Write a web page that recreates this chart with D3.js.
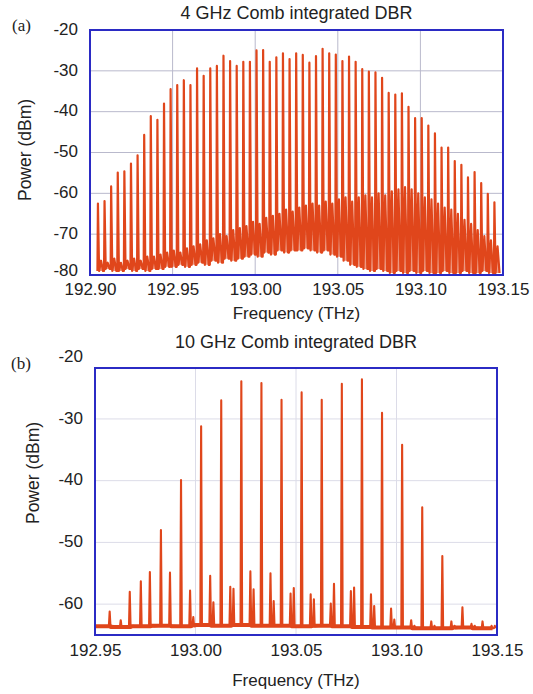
<!DOCTYPE html>
<html>
<head>
<meta charset="utf-8">
<script src="https://cdn.jsdelivr.net/npm/d3@7/dist/d3.min.js"></script>
<style>
  body { margin: 0; background: #fff; }
  text { font-family: "Liberation Sans", Arial, sans-serif; fill: #222; }
  .tag { font-family: "Liberation Serif", "Times New Roman", serif; }
</style>
</head>
<body>
<svg id="chart" width="533" height="694"></svg>
<script>
// ---- panel (a): 4 GHz comb, one value per comb line / gap ----
var combA_start = 192.9048, combA_step = 0.004;
var peaksA = [-62.5, -61.9, -58.3, -54.9, -54.6, -52.7, -50.7, -45.7, -41.1, -42.0,
              -38.0, -34.5, -33.5, -32.3, -33.5, -29.4, -31.2, -29.4, -28.8, -26.3,
              -27.6, -28.8, -27.8, -27.8, -25.0, -24.9, -27.8, -26.7, -25.7, -27.1,
              -25.7, -26.1, -28.0, -26.4, -24.6, -25.7, -26.0, -27.6, -26.5, -27.8,
              -29.6, -30.2, -30.4, -31.7, -35.4, -35.8, -35.5, -38.8, -41.6, -41.6,
              -43.4, -45.3, -48.8, -48.8, -52.1, -53.0, -56.1, -54.8, -57.5, -60.1, -62.2];
// side-mode level between lines
var sideA = [-76.5, -77, -76, -77, -76.5, -76, -76.5, -75.5, -75.5,
             -75, -74.5, -74, -74.5, -73.5, -73,
             -72.5, -71.5, -71, -70, -70.5, -69,
             -68.5, -68, -67, -67.5, -66, -65.5, -65, -64, -64.5,
             -63.5, -63, -62.5, -63, -62, -62.5, -61.5, -61, -62,
             -61, -60.5, -61, -60, -60.5, -59.5, -59, -58.5,
             -59, -60, -61, -61.5, -62.5, -63.5, -64,
             -65, -66.5, -67.5, -69, -70.5, -71.5, -73];
// noise floor between lines
var floorA = [-79, -78.5, -79, -79, -78.5, -79, -78.5, -79, -78.5,
              -78.5, -78, -78, -77.5, -78, -77.5,
              -77, -77.5, -76.5, -77, -76, -76.5,
              -76, -75.5, -75, -75.5, -74.5, -75, -74, -74.5, -74,
              -74, -73.5, -74, -74.5, -74, -75, -75.5, -76.5, -77.5,
              -78, -78.5, -79, -78.5, -79, -79.5, -79, -79.5,
              -79, -79.5, -79, -79.5, -79.5, -79, -79.5,
              -79.5, -79, -79.5, -79.5, -79, -79.5, -79.5];

// ---- panel (b): 10 GHz comb ----
var combB_start = 192.9528, combB_step = 0.01;
var peaksB = [-63.6, -62.6, -56.3, -48.0, -39.9, -31.2, -27.0, -23.9, -24.2, -26.9,
              -25.7, -26.9, -24.3, -23.6, -29.0, -34.2, -44.3, -52.2, -60.5, -62.8];
// two weak side lines after each main line (at +4.5 and +6.1 GHz)
var sideOffB = [0.0045, 0.0061];
var side1B = [-61.2, -58.0, -54.8, -54.9, -57.8, -55.4, -57.2, -54.7, -55.0, -58.3,
              -58.4, -59.9, -57.9, -58.4, -60.7, -62.6, -62.8, -62.8, -63.2, -63.5];
var side2B = [-63.5, -63.5, -63.5, -63.5, -62.1, -59.7, -57.5, -57.6, -59.5, -57.4,
              -59.2, -56.7, -57.3, -60.3, -62.5, -63.5, -63.5, -63.5, -63.5, -63.5];
var floorB = [-63.6, -63.7, -63.6, -63.5, -63.6, -63.4, -63.5, -63.4, -63.5, -63.5,
              -63.6, -63.5, -63.6, -63.7, -63.8, -63.8, -63.9, -63.9, -63.8, -63.9];

var traceColor = "#e0461b";
var svg = d3.select("#chart");

function panel(opt) {
    var m = opt.box;
    var w = m.right - m.left, h = m.bottom - m.top;
    var x = d3.scaleLinear().domain(opt.xDomain).range([0, w]);
    var y = d3.scaleLinear().domain(opt.yDomain).range([h, 0]);

    var g = svg.append("g").attr("transform", "translate(" + m.left + "," + m.top + ")");

    g.append("clipPath").attr("id", opt.id + "clip")
        .append("rect").attr("width", w).attr("height", h);

    // grid
    g.selectAll(".vgrid").data(opt.xGrid).enter().append("line")
        .attr("x1", x).attr("x2", x).attr("y1", 0).attr("y2", h)
        .attr("stroke", opt.gridColor).attr("stroke-width", 1);
    g.selectAll(".hgrid").data(opt.yGrid).enter().append("line")
        .attr("y1", y).attr("y2", y).attr("x1", 0).attr("x2", w)
        .attr("stroke", opt.gridColor).attr("stroke-width", 1);

    var line = d3.line().x(function(d) { return x(d[0]); }).y(function(d) { return y(d[1]); });
    var plot = g.append("g").attr("clip-path", "url(#" + opt.id + "clip)");

    // dense noise band: fill between trace and local floor
    if (opt.band) {
        var area = d3.area()
            .x(function(d) { return x(d[0]); })
            .y0(function(d) { return y(d[2]); })
            .y1(function(d) { return y(d[1]); });
        plot.append("path").attr("d", area(opt.points))
            .attr("fill", traceColor).attr("fill-opacity", 0.55).attr("stroke", "none");
    }
    if (opt.floor) {
        plot.append("path").attr("d", line(opt.floor))
            .attr("fill", "none").attr("stroke", traceColor)
            .attr("stroke-width", opt.floorWidth).attr("stroke-linejoin", "round");
    }
    plot.append("path").attr("d", line(opt.points))
        .attr("fill", "none").attr("stroke", traceColor)
        .attr("stroke-width", opt.lineWidth).attr("stroke-linejoin", "round");

    // frame
    g.append("rect").attr("width", w).attr("height", h)
        .attr("fill", "none").attr("stroke", "#2b2bc4").attr("stroke-width", 2);

    // axes
    g.append("g").attr("transform", "translate(0," + h + ")")
        .call(d3.axisBottom(x).tickValues(opt.xTicks).tickSize(0).tickPadding(opt.xPad)
            .tickFormat(d3.format(".2f")))
        .call(function(a) { a.select(".domain").remove(); })
        .selectAll("text").style("font-size", "17px").attr("fill", "#222");
    g.append("g")
        .call(d3.axisLeft(y).tickValues(opt.yTicks).tickSize(0).tickPadding(opt.yPad)
            .tickFormat(function(d) { return String(d); }))
        .call(function(a) { a.select(".domain").remove(); })
        .selectAll("text").style("font-size", "17px").attr("fill", "#222")
        .attr("dy", function(d, i) { return i === 0 && opt.lowTickDy ? opt.lowTickDy : "0.25em"; });

    g.append("text")
        .attr("x", w / 2).attr("y", opt.titleY - m.top)
        .attr("text-anchor", "middle").style("font-size", "18px")
        .text(opt.title);
    g.append("text")
        .attr("x", w / 2).attr("y", opt.xLabY - m.top)
        .attr("text-anchor", "middle").style("font-size", "17px")
        .text("Frequency (THz)");
    g.append("text")
        .attr("transform", "translate(" + (opt.yLabX - m.left) + "," + (opt.yLabCY - m.top) + ") rotate(-90)")
        .attr("text-anchor", "middle").style("font-size", "17.5px")
        .text("Power (dBm)");
    svg.append("text").attr("class", "tag")
        .attr("x", opt.tagX).attr("y", opt.tagY)
        .style("font-size", "17px")
        .text(opt.tag);
}

// build trace (a): line, then side mode between lines; third value = local floor
var ptsA = [];
peaksA.forEach(function(p, k) {
    var f = combA_start + k * combA_step;
    var prev = k ? floorA[k - 1] : floorA[0];
    ptsA.push([f - 0.0003, prev, prev]);
    ptsA.push([f, p, prev]);
    ptsA.push([f + 0.0007, floorA[k], floorA[k]]);
    ptsA.push([f + 0.0019, sideA[k], floorA[k]]);
    ptsA.push([f + 0.0031, floorA[k], floorA[k]]);
});

// build trace (b)
var ptsB = [], flB = [];
peaksB.forEach(function(p, n) {
    var f = combB_start + n * combB_step;
    var fl = floorB[n];
    ptsB.push([f - 0.0004, fl], [f, p], [f + 0.0004, fl]);
    [side1B[n], side2B[n]].forEach(function(s, j) {
        var fs = f + sideOffB[j];
        ptsB.push([fs - 0.0004, fl], [fs, s], [fs + 0.0004, fl]);
    });
    flB.push([f - 0.005, fl], [f + 0.005, fl]);
});

panel({
    id: "a", box: { left: 90, right: 503, top: 30, bottom: 275 },
    xDomain: [192.90, 193.15], yDomain: [-80, -20],
    xTicks: [192.90, 192.95, 193.00, 193.05, 193.10, 193.15],
    yTicks: [-80, -70, -60, -50, -40, -30, -20],
    xGrid: [192.95, 193.00, 193.05, 193.10], yGrid: [-70, -60, -50, -40, -30],
    gridColor: "#b9b9cc", xPad: 8, yPad: 12, lowTickDy: "0.05em",
    points: ptsA, lineWidth: 2.2, band: true,
    title: "4 GHz Comb integrated DBR", titleY: 19,
    xLabY: 319, yLabX: 31, yLabCY: 150,
    tag: "(a)", tagX: 12, tagY: 31
});

panel({
    id: "b", box: { left: 95, right: 497, top: 368, bottom: 635 },
    xDomain: [192.95, 193.15], yDomain: [-65, -21.75],
    xTicks: [192.95, 193.00, 193.05, 193.10, 193.15],
    yTicks: [-60, -50, -40, -30, -20],
    xGrid: [193.00, 193.05, 193.10], yGrid: [-60, -50, -40, -30],
    gridColor: "#dcdce8", xPad: 9, yPad: 12,
    points: ptsB, lineWidth: 2.1, floor: flB, floorWidth: 4,
    title: "10 GHz Comb integrated DBR", titleY: 348,
    xLabY: 686, yLabX: 39, yLabCY: 473,
    tag: "(b)", tagX: 11, tagY: 369
});
</script>
</body>
</html>
